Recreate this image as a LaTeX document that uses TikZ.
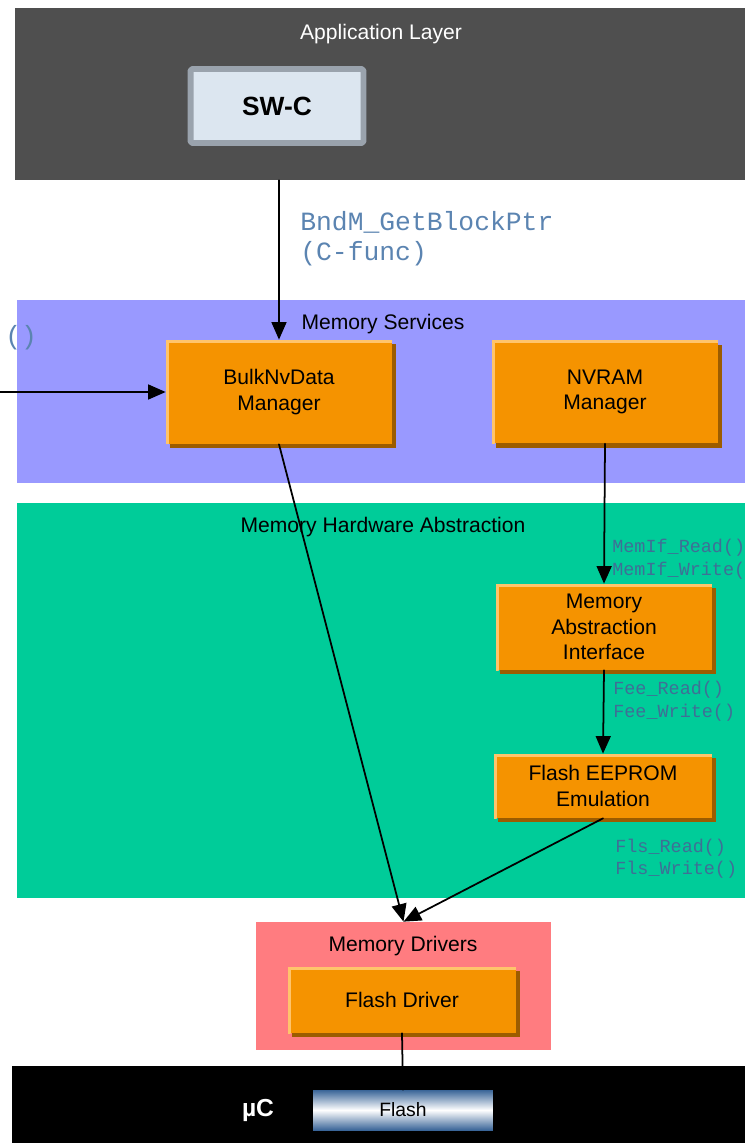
\documentclass[tikz,border=0pt]{standalone}
\usepackage{fontspec}
\setmainfont{Liberation Sans}
\setmonofont{Liberation Mono}
\usetikzlibrary{arrows.meta,fit,shadows}
\definecolor{AppGray}{HTML}{4F4F4F}
\definecolor{SrvBlue}{HTML}{9999FF}
\definecolor{HwaGreen}{HTML}{00CC99}
\definecolor{DrvRed}{HTML}{FF7C80}
\definecolor{BoxOrange}{HTML}{F59300}
\definecolor{BoxLight}{HTML}{FFC46B}
\definecolor{BoxShade}{HTML}{9C5C00}
\definecolor{SwcFill}{HTML}{DCE6F0}
\definecolor{SwcFrame}{HTML}{9AA3AD}
\definecolor{ApiBlue}{HTML}{5B84B1}
\definecolor{ApiDark}{HTML}{3F6F96}
\definecolor{FlashBlue}{HTML}{3A6598}

\begin{document}
\begin{tikzpicture}[x=0.02cm,y=-0.02cm,line cap=round,line join=round,
  band/.style={inner sep=0pt,fill=#1},
  title/.style={font=\fontsize{12}{14.5}\selectfont,yshift=-1pt},
  module/.style={fill=BoxOrange,align=center,inner sep=0pt,font=\fontsize{12}{14.5}\selectfont,
    general shadow={fill=BoxShade,shadow xshift=2.3pt,shadow yshift=-2.3pt},
    path picture={\draw[BoxLight,line width=3pt] (path picture bounding box.south west)--(path picture bounding box.north west)--(path picture bounding box.north east);}},
  api/.style={font=\ttfamily\fontsize{15}{18}\selectfont,text=ApiBlue,anchor=west,inner sep=0pt},
  apismall/.style={font=\ttfamily\fontsize{10.5}{12.8}\selectfont,text=ApiDark,anchor=west,inner sep=0pt},
  call/.style={-{Triangle[length=10pt,width=8.5pt]},line width=1pt}]
  \useasboundingbox (0,0) rectangle (745,1143);
  % layers
  \node[band=AppGray,fit={(15,8) (745,180)}] (app) {};
  \node[title,text=white] at (381,32) {Application Layer};
  \node[band=SrvBlue,fit={(17,300) (745,483)}] (srv) {};
  \node[title] at (383,322) {Memory Services};
  \node[band=HwaGreen,fit={(17,503) (745,898)}] (hwa) {};
  \node[title] at (383,525) {Memory Hardware Abstraction};
  \node[band=DrvRed,fit={(256,922) (551,1050)}] (drv) {};
  \node[title] at (403,944) {Memory Drivers};
  \node[band=black,fit={(12,1066) (745,1143)}] (uc) {};
  % modules
  \node[draw=SwcFrame,line width=3.4pt,fill=SwcFill,rounded corners=1pt,minimum width=3.46cm,minimum height=1.48cm,font=\bfseries\fontsize{15}{18}\selectfont] (swc) at (277,106) {SW-C};
  \node[module,minimum width=4.52cm,minimum height=2.08cm] (bulk) at (279,392) {BulkNvData\\Manager};
  \node[module,minimum width=4.52cm,minimum height=2.06cm] (nvram) at (605,392) {NVRAM\\Manager};
  \node[module,minimum width=4.32cm,minimum height=1.72cm] (mai) at (604,627) {Memory\\Abstraction\\Interface};
  \node[module,minimum width=4.36cm,minimum height=1.28cm] (fee) at (603,786) {Flash EEPROM\\Emulation};
  \node[module,minimum width=4.56cm,minimum height=1.32cm] (fdrv) at (402,1000) {Flash Driver};
  \node[font=\bfseries\fontsize{14}{17}\selectfont,text=white] (ucname) at (258,1110) {µC};
  \node[minimum width=3.6cm,minimum height=0.8cm,inner sep=0pt,top color=FlashBlue,bottom color=FlashBlue,middle color=white,font=\fontsize{11}{13}\selectfont] (flash) at (403,1110) {Flash};
  % interfaces
  \node[api] (getptr) at (300,222) {BndM\_GetBlockPtr};
  \node[api] (cfunc) at (300,254) {(C-func)};
  \node[api] (extcall) at (5,338) {()};
  \node[apismall] (memifrd) at (612,548) {MemIf\_Read()};
  \node[apismall] (memifwr) at (612,571) {MemIf\_Write()};
  \node[apismall] (feerd) at (613,690) {Fee\_Read()};
  \node[apismall] (feewr) at (613,713) {Fee\_Write()};
  \node[apismall] (flsrd) at (615,848) {Fls\_Read()};
  \node[apismall] (flswr) at (615,870) {Fls\_Write()};
  % calls
  \coordinate (ext) at (0,392);
  \draw[call] (app.south -| bulk.north) -- (bulk.north);
  \draw[call] (ext) -- (bulk.west);
  \draw[call] (nvram.south) -- (mai.north);
  \draw[call] (mai.south) -- (fee.north);
  \draw[call] (bulk.south) -- (drv.north);
  \draw[call] (fee.south) -- (drv.north);
  \draw[line width=1pt] (fdrv.south) -- (flash.north);
\end{tikzpicture}
\end{document}
